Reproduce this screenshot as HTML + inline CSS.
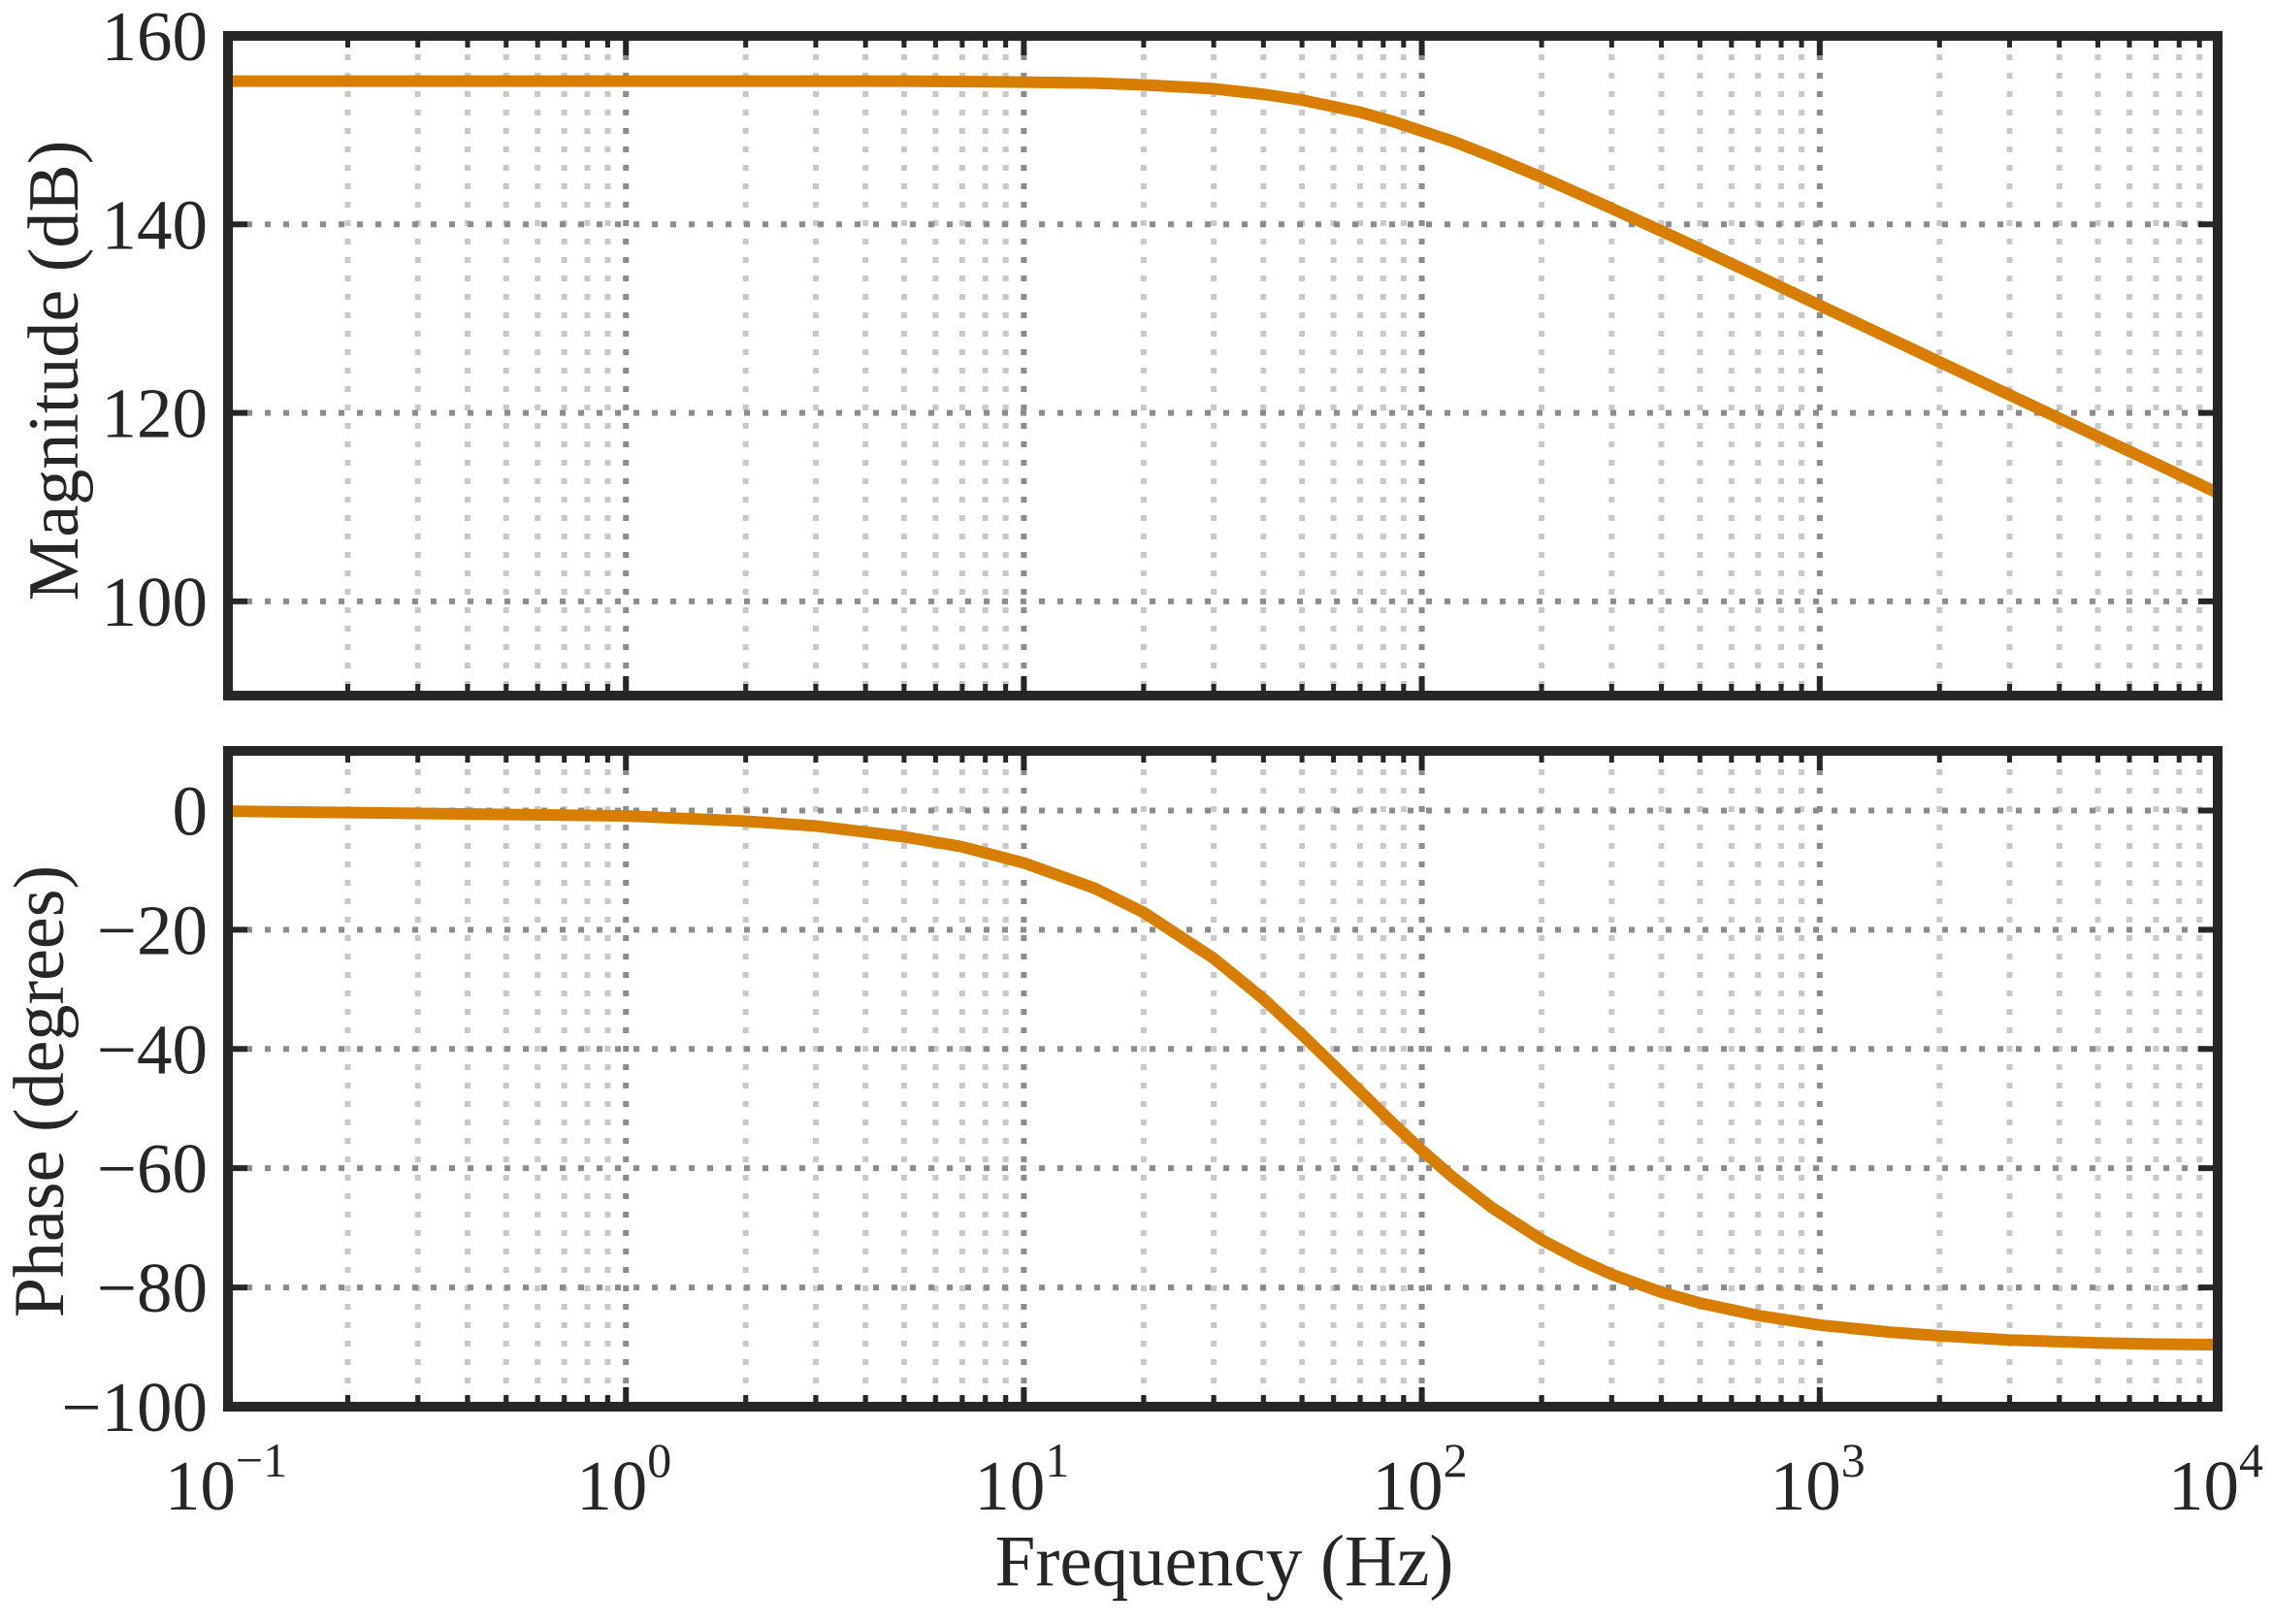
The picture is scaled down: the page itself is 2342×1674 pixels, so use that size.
<!DOCTYPE html>
<html><head><meta charset="utf-8">
<style>
body{margin:0;background:#fff;}
svg text{font-family:"Liberation Serif",serif;fill:#262626;}
</style></head>
<body>
<svg id="chart" width="2342" height="1669" viewBox="0 0 2342 1669" xmlns="http://www.w3.org/2000/svg">
<g id="layer"></g>
</svg>
<script>
const freqs = [0.1,1,2,3,5,7,10,15,20,30,40,50,60,70,85,100,120,150,200,250,300,400,500,700,1000,1500,2000,3000,5000,7000,10000];
const magnitude = [155.2,155.2,155.2,155.2,155.2,155.15,155.1,155.0,154.8,154.4,153.8,153.2,152.5,151.9,150.9,149.9,148.8,147.2,145.0,143.2,141.7,139.3,137.4,134.5,131.4,127.9,125.4,121.9,117.5,114.6,111.5];
const phase = [-0.1,-0.9,-1.8,-2.6,-4.4,-6.1,-8.8,-13.0,-17.1,-24.8,-31.6,-37.6,-42.7,-47.1,-52.6,-57.0,-61.6,-66.6,-72.0,-75.4,-77.8,-80.8,-82.6,-84.7,-86.3,-87.5,-88.1,-88.8,-89.3,-89.5,-89.6];
const magTicks = [100,120,140,160];
const phaseTicks = [-100,-80,-60,-40,-20,0];
const decadeExps = [-1,0,1,2,3,4];

const NS='http://www.w3.org/2000/svg';
const layer=document.getElementById('layer');
function mk(tag,attrs,parent){const e=document.createElementNS(NS,tag);for(const k in attrs)e.setAttribute(k,attrs[k]);(parent||layer).appendChild(e);return e;}
const X0=235,X1=2286;
function xs(f){return X0+(Math.log10(f)+1)/5*(X1-X0);}
const panels=[
 {name:'magnitude',top:37,bot:717,ymin:90,ymax:160,ticks:magTicks,data:magnitude,label:'Magnitude (dB)',lx:55,ly:382},
 {name:'phase',top:774,bot:1450,ymin:-100,ymax:10,ticks:phaseTicks,data:phase,label:'Phase (degrees)',lx:40,ly:1125}
];
panels.forEach(p=>{
  const ys=v=>p.bot-(v-p.ymin)/(p.ymax-p.ymin)*(p.bot-p.top);
  const g=mk('g',{});
  
  
  for(let e=-1;e<4;e++){for(let m=2;m<=9;m++){const x=xs(m*Math.pow(10,e));
    const l=mk('line',{x1:x,x2:x,y1:p.top,y2:p.bot,stroke:'#c8c8c8','stroke-width':6,'stroke-dasharray':'6 13'},g);
    
    
    mk('line',{x1:x,x2:x,y1:p.top,y2:p.top+12,stroke:'#262626','stroke-width':5},g);
    mk('line',{x1:x,x2:x,y1:p.bot,y2:p.bot-12,stroke:'#262626','stroke-width':5},g);
  }}
  decadeExps.forEach(e=>{const x=xs(Math.pow(10,e));
    const l=mk('line',{x1:x,x2:x,y1:p.top,y2:p.bot,stroke:'#8c8c8c','stroke-width':6,'stroke-dasharray':'6 13'},g);
    
    
    mk('line',{x1:x,x2:x,y1:p.top,y2:p.top+20,stroke:'#262626','stroke-width':6},g);
    mk('line',{x1:x,x2:x,y1:p.bot,y2:p.bot-20,stroke:'#262626','stroke-width':6},g);
  });
  p.ticks.forEach(t=>{const y=ys(t);
    const l=mk('line',{x1:X0,x2:X1,y1:y,y2:y,stroke:'#8c8c8c','stroke-width':6,'stroke-dasharray':'6 13'},g);
    
    
    mk('line',{x1:X0,x2:X0+20,y1:y,y2:y,stroke:'#262626','stroke-width':6},g);
    mk('line',{x1:X1,x2:X1-20,y1:y,y2:y,stroke:'#262626','stroke-width':6},g);
    const tx=mk('text',{x:214,y:y+25,'text-anchor':'end','font-size':73},g);
    tx.textContent=(t<0?'\u2212'+(-t):''+t);
    
    
  });
  const pts=freqs.map((f,i)=>xs(f).toFixed(1)+','+ys(p.data[i]).toFixed(1)).join(' ');
  const line=mk('polyline',{points:pts,fill:'none',stroke:'#D77E00','stroke-width':12,'stroke-linejoin':'round'},g);
  
  
  const box=mk('rect',{x:X0,y:p.top,width:X1-X0,height:p.bot-p.top,fill:'none',stroke:'#262626','stroke-width':10},g);
  
  
  const yl=mk('text',{x:p.lx,y:p.ly,'text-anchor':'middle','font-size':74,transform:'rotate(-90 '+p.lx+' '+p.ly+') translate(0 25)'},g);
  yl.textContent=p.label;
  
  
});
decadeExps.forEach(e=>{const x=xs(Math.pow(10,e));
  const t=mk('text',{x:x-2,y:1556,'text-anchor':'middle','font-size':73});
  
  
  const b=mk('tspan',{},t);b.textContent='10';
  const s=mk('tspan',{dy:-34,'font-size':50},t);s.textContent=(e<0?'\u2212'+(-e):''+e);
});
const xl=mk('text',{x:1262,y:1634,'text-anchor':'middle','font-size':75});
xl.textContent='Frequency (Hz)';


</script>
</body></html>
